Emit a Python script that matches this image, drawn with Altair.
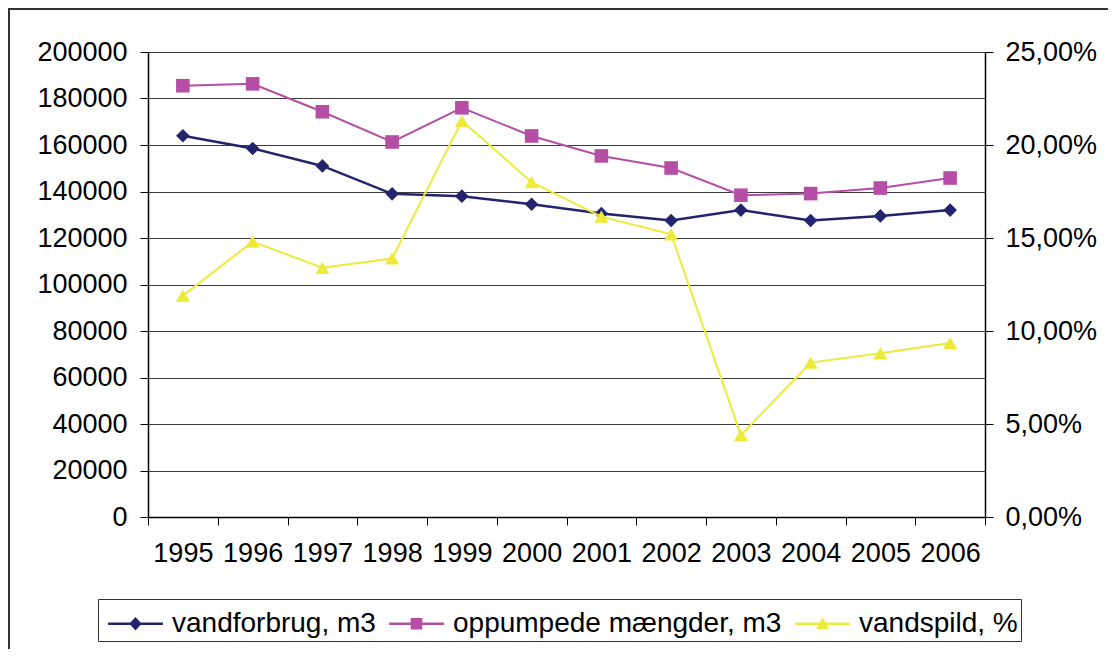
import altair as alt
import pandas as pd

years = ["1995", "1996", "1997", "1998", "1999", "2000", "2001", "2002", "2003", "2004", "2005", "2006"]
vandforbrug = [164000, 158500, 151000, 139000, 138000, 134500, 130500, 127500, 132000, 127500, 129500, 132000]
oppumpede = [185500, 186300, 174300, 161300, 176000, 163900, 155300, 150100, 138400, 139100, 141500, 145800]
vandspild = [11.9, 14.8, 13.4, 13.9, 21.3, 18.0, 16.15, 15.2, 4.4, 8.3, 8.8, 9.35]

series_names = ["vandforbrug, m3", "oppumpede mængder, m3", "vandspild, %"]
colors = ["#23236E", "#B64EA6", "#EEEA3A"]
left_ticks = list(range(0, 200001, 20000))
right_ticks = [0, 5, 10, 15, 20, 25]

df = pd.DataFrame({"year": years, "v1": vandforbrug, "v2": oppumpede, "v3": vandspild})

FONT = "Liberation Sans"
FS = 27

x_enc = alt.X(
    "year:O",
    bandPosition=0.5,
    scale=alt.Scale(type="band", paddingInner=0, paddingOuter=0),
    axis=alt.Axis(title=None, tickBand="extent", labelAngle=0, grid=False,
                  tickSize=8, labelPadding=15, domainColor="black", tickColor="black",
                  domainWidth=1.5, labelFont=FONT, labelFontSize=FS, labelColor="black"),
)

left_scale = alt.Scale(domain=[0, 200000], nice=False, zero=True)
left_axis = alt.Axis(title=None, values=left_ticks, format="d", grid=True,
                     gridColor="#3c3c3c", gridWidth=1.2, tickSize=8, labelPadding=13,
                     minExtent=140, maxExtent=140, domainColor="black", tickColor="black",
                     domainWidth=1.5, labelFont=FONT, labelFontSize=FS, labelColor="black")

def series_line(field, color, shape, width):
    return alt.Chart(df).mark_line(
        color=color, strokeWidth=width,
        point=alt.OverlayMarkDef(shape=shape, size=185, filled=True, color=color, opacity=1),
    ).encode(
        x=x_enc,
        y=alt.Y(f"{field}:Q", scale=left_scale, axis=left_axis),
    )

l1 = series_line("v1", colors[0], "diamond", 2.5)
l2 = series_line("v2", colors[1], "square", 2)
left = alt.layer(l1, l2)

right = alt.Chart(df).mark_line(
    color=colors[2], strokeWidth=2,
    point=alt.OverlayMarkDef(shape="triangle-up", size=200, filled=True, color=colors[2], opacity=1),
).encode(
    x=x_enc,
    y=alt.Y("v3:Q", scale=alt.Scale(domain=[0, 25], nice=False, zero=True),
            axis=alt.Axis(title=None, orient="right", values=right_ticks, grid=False,
                          labelExpr="replace(format(datum.value, '.2f'), '.', ',') + '%'",
                          tickSize=8, labelPadding=12, domainColor="black", tickColor="black",
                          domainWidth=1.5, labelFont=FONT, labelFontSize=FS, labelColor="black")),
)

# legend symbols: line stub with marker (custom paths; unit = 21.5 px)
stub = "M-0.67,-0.056 L1.88,-0.056 L1.88,0.056 L-0.67,0.056 Z "
cx = 0.605
paths = [
    stub + f"M{cx},-0.31 L{cx+0.29},0 L{cx},0.31 L{cx-0.29},0 Z",
    stub + f"M{cx-0.27},-0.27 L{cx+0.27},-0.27 L{cx+0.27},0.27 L{cx-0.27},0.27 Z",
    stub + f"M{cx},-0.31 L{cx+0.30},0.25 L{cx-0.30},0.25 Z",
]
legend_def = alt.Legend(title=None, orient="none", legendX=-50, legendY=547, direction="horizontal",
                        symbolSize=1849, symbolStrokeWidth=0, labelOffset=28, columnPadding=6,
                        padding=3, strokeColor="#333333", fillColor="white",
                        labelFont=FONT, labelFontSize=28, labelColor="black", labelLimit=600)
legend_df = pd.DataFrame({"series": series_names})
legend_layer = alt.Chart(legend_df).transform_filter("false").mark_point(filled=True, opacity=1).encode(
    color=alt.Color("series:N", scale=alt.Scale(domain=series_names, range=colors), legend=legend_def),
    shape=alt.Shape("series:N", scale=alt.Scale(domain=series_names, range=paths), legend=legend_def),
)

one = pd.DataFrame({"a": [0]})
border_left = alt.Chart(one).mark_rule(color="#333333", strokeWidth=2).encode(
    x=alt.value(-139), y=alt.value(-43), y2=alt.value(700))
border_top = alt.Chart(one).mark_rule(color="#333333", strokeWidth=2).encode(
    x=alt.value(-140), x2=alt.value(1000), y=alt.value(-43))

chart = alt.layer(left, right, legend_layer, border_left, border_top).resolve_scale(
    y="independent"
).properties(
    width=837, height=465,
    autosize=alt.AutoSizeParams(type="none"),
    padding={"left": 140, "top": 44, "right": 123, "bottom": 132},
).configure_view(
    fill="#C0C0C0", stroke="#808080", strokeWidth=2,
).configure(background="white")

chart.save("out.html", embed_options={"renderer": "svg", "actions": False})
